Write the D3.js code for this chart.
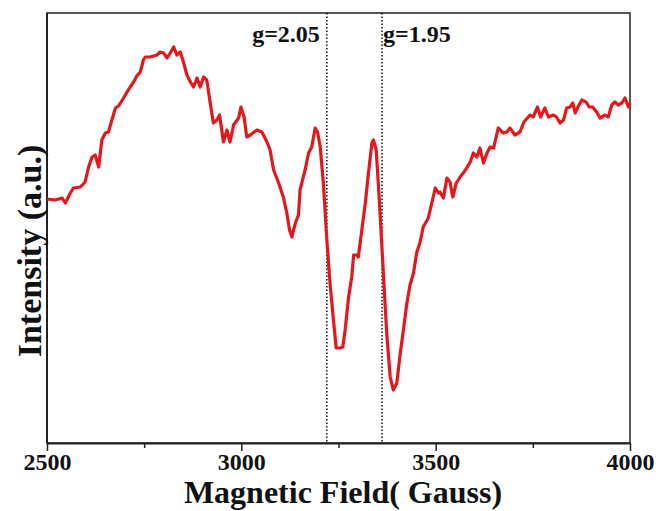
<!DOCTYPE html>
<html>
<head>
<meta charset="utf-8">
<script src="https://cdn.jsdelivr.net/npm/d3@7"></script>
<style>
  body { margin: 0; background: #fff; }
  text { font-family: "Liberation Serif", "Times New Roman", serif; font-weight: bold; fill: #111; }
</style>
</head>
<body>
<div id="my_graphic"></div>
<script>
// magnetic field (Gauss)
var field = [2500,2521,2539,2547,2560,2568,2586,2598,2607,2616,2624,2633,2641,2650,2658,2667,2676,2684,2697,2706,
  2714,2723,2731,2740,2748,2753,2766,2774,2783,2791,2800,2809,2817,2826,2834,2843,2851,2860,2869,2877,
  2886,2894,2903,2911,2920,2928,2937,2944,2954,2963,2971,2980,2993,2999,3007,3014,3023,3040,3053,3066,
  3074,3083,3096,3108,3117,3124,3130,3139,3147,3151,3164,3173,3181,3190,3196,3203,3211,3220,3229,3237,
  3244,3254,3261,3267,3276,3284,3289,3297,3301,3310,3319,3327,3336,3340,3347,3355,3366,3374,3383,3391,
  3400,3409,3417,3426,3434,3443,3451,3460,3468,3481,3490,3499,3507,3511,3520,3529,3537,3544,3553,3563,
  3571,3580,3589,3597,3606,3614,3623,3632,3640,3649,3661,3674,3683,3691,3704,3717,3727,3743,3751,3762,
  3770,3781,3790,3803,3811,3820,3829,3837,3846,3853,3859,3866,3876,3887,3895,3904,3914,3923,3936,3944,
  3953,3961,3970,3979,3987,3996,4000];

// intensity (a.u.)
var intensity = [244,243,245,240,250,255,256,261,276,286,288,276,303,310,311,323,335,337,345,351,
  356,361,367,371,383,386,386,387,388,391,390,385,390,396,388,391,381,368,361,356,
  365,356,366,363,340,320,323,328,301,313,301,318,325,336,326,306,308,313,311,301,
  293,273,260,246,230,213,206,220,228,253,273,290,296,315,311,296,260,203,156,123,
  95,95,96,113,146,166,188,188,186,213,240,270,300,303,293,243,166,110,66,53,
  60,90,113,140,158,170,190,201,216,225,240,255,250,251,245,265,261,246,260,266,
  270,275,281,290,286,295,280,290,296,295,315,310,311,315,308,311,321,328,326,336,
  326,335,326,328,326,320,323,335,336,340,330,336,343,341,336,336,331,325,328,326,
  338,341,338,340,345,336,340];

var majorTicks = [2500, 3000, 3500, 4000];
var minorTicks = [2750, 3250, 3750];
var gLines = [3220, 3362];
var gLabels = ["g=2.05", "g=1.95"];

var data = field.map(function(f, i) { return {x: f, y: intensity[i]}; });

const margin = {top: 13, right: 30, bottom: 68, left: 47},
    width = 660 - margin.left - margin.right,
    height = 511 - margin.top - margin.bottom;

const svg = d3.select("#my_graphic")
    .append("svg")
    .attr("width", 660)
    .attr("height", 511)
    .append("g")
    .attr("transform", `translate(${margin.left},${margin.top})`);

const x = d3.scaleLinear()
    .domain([2500, 4000])
    .range([0, width]);

const y = d3.scaleLinear()
    .domain([0, 430])
    .range([height, 0]);

// frame
svg.append("rect")
    .attr("x", 0).attr("y", 0)
    .attr("width", width).attr("height", height)
    .attr("fill", "none")
    .attr("stroke", "#222")
    .attr("stroke-width", 1.5);

svg.append("line")
    .attr("x1", 0).attr("x2", 0)
    .attr("y1", 0).attr("y2", height)
    .attr("stroke", "#222")
    .attr("stroke-width", 2);

// dotted g lines
svg.selectAll(".gline")
    .data(gLines)
    .join("line")
    .attr("class", "gline")
    .attr("x1", d => x(d)).attr("x2", d => x(d))
    .attr("y1", 0).attr("y2", height)
    .attr("stroke", "#111")
    .attr("stroke-width", 1.5)
    .attr("stroke-dasharray", "1.5,2");

svg.selectAll(".glabel")
    .data(gLabels)
    .join("text")
    .attr("class", "glabel")
    .attr("x", (d, i) => i == 0 ? x(gLines[0]) - 7 : x(gLines[1]) + 1)
    .attr("y", 29)
    .attr("text-anchor", (d, i) => i == 0 ? "end" : "start")
    .style("font-size", "24px")
    .text(d => d);

// minor ticks
svg.append("g")
    .attr("transform", `translate(0, ${height})`)
    .call(d3.axisBottom(x).tickValues(minorTicks).tickSize(5).tickFormat(""))
    .call(g => g.select(".domain").remove())
    .call(g => g.selectAll(".tick line").attr("stroke", "#222").attr("stroke-width", 1.5));

// major ticks + labels
svg.append("g")
    .attr("transform", `translate(0, ${height})`)
    .call(d3.axisBottom(x).tickValues(majorTicks).tickSize(8).tickSizeOuter(0).tickFormat(d3.format("d")))
    .call(g => g.select(".domain").attr("stroke", "#222").attr("stroke-width", 2))
    .call(g => g.selectAll(".tick line").attr("stroke", "#222").attr("stroke-width", 1.5))
    .call(g => g.selectAll(".tick text")
        .attr("y", 27)
        .attr("dy", 0)
        .style("font-family", "'Liberation Serif', serif")
        .style("font-weight", "bold")
        .style("font-size", "24px")
        .attr("fill", "#111"));

// curve
svg.append("path")
    .datum(data)
    .attr("fill", "none")
    .attr("stroke", "#e3181c")
    .attr("stroke-width", 3.2)
    .attr("stroke-linejoin", "round")
    .attr("d", d3.line().x(d => x(d.x)).y(d => y(d.y)));

// axis titles
svg.append("text")
    .attr("x", 296)
    .attr("y", 490)
    .attr("text-anchor", "middle")
    .style("font-size", "32px")
    .text("Magnetic Field( Gauss)");

svg.append("text")
    .attr("transform", "translate(-6, 238) rotate(-90)")
    .attr("text-anchor", "middle")
    .style("font-size", "34px")
    .text("Intensity (a.u.)");
</script>
</body>
</html>
